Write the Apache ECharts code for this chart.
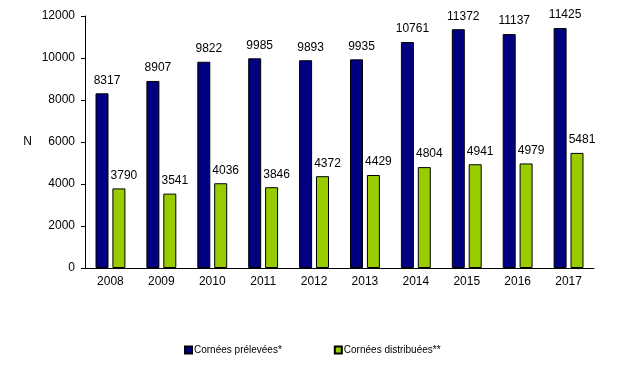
<!DOCTYPE html>
<html><head><meta charset="utf-8">
<script src="https://cdn.jsdelivr.net/npm/echarts@6/dist/echarts.min.js"></script>
<style>html,body{margin:0;padding:0;background:#fff}#c{width:630px;height:388px}</style>
</head><body><div id="c"></div>
<script>
var years = ['2008','2009','2010','2011','2012','2013','2014','2015','2016','2017'];
var prelevees = [8317, 8907, 9822, 9985, 9893, 9935, 10761, 11372, 11137, 11425];
var distribuees = [3790, 3541, 4036, 3846, 4372, 4429, 4804, 4941, 4979, 5481];
var seriesNames = ['Cornées prélevées*', 'Cornées distribuées**'];
var font = 'Liberation Sans, Arial, sans-serif';
var chart = echarts.init(document.getElementById('c'));
var lbl = {show:true, position:'top', distance:7, offset:[5,0], color:'#000', fontFamily:font, fontSize:12};
chart.setOption({
  animation:false,
  textStyle:{fontFamily:font},
  grid:{left:85, right:36, top:16, bottom:120},
  legend:{left:179, top:340, itemWidth:7, itemHeight:7, itemGap:52, icon:'rect',
    textStyle:{fontFamily:font, fontSize:10, color:'#000', padding:[0,0,0,-3]},
    data:seriesNames},
  xAxis:{type:'category', data:years,
    axisLine:{lineStyle:{color:'#000', width:1}},
    axisTick:{show:false},
    axisLabel:{color:'#000', fontFamily:font, fontSize:12, margin:8}},
  yAxis:{type:'value', min:0, max:12000, interval:2000,
    name:'N', nameLocation:'middle', nameRotate:0, nameGap:53,
    nameTextStyle:{color:'#000', fontFamily:font, fontSize:12},
    axisLine:{show:true, lineStyle:{color:'#000', width:1}},
    axisTick:{show:true, length:4, lineStyle:{color:'#000'}},
    splitLine:{show:false},
    axisLabel:{color:'#000', fontFamily:font, fontSize:12, margin:10, formatter:function(v){return String(v);}}},
  series:[
    {name:seriesNames[0], type:'bar', data:prelevees, barWidth:13, barGap:'30%',
     itemStyle:{color:'#000080', borderColor:'#000', borderWidth:1}, label:lbl},
    {name:seriesNames[1], type:'bar', data:distribuees, barWidth:13,
     itemStyle:{color:'#99CC00', borderColor:'#000', borderWidth:1}, label:lbl}
  ]
});
</script></body></html>
